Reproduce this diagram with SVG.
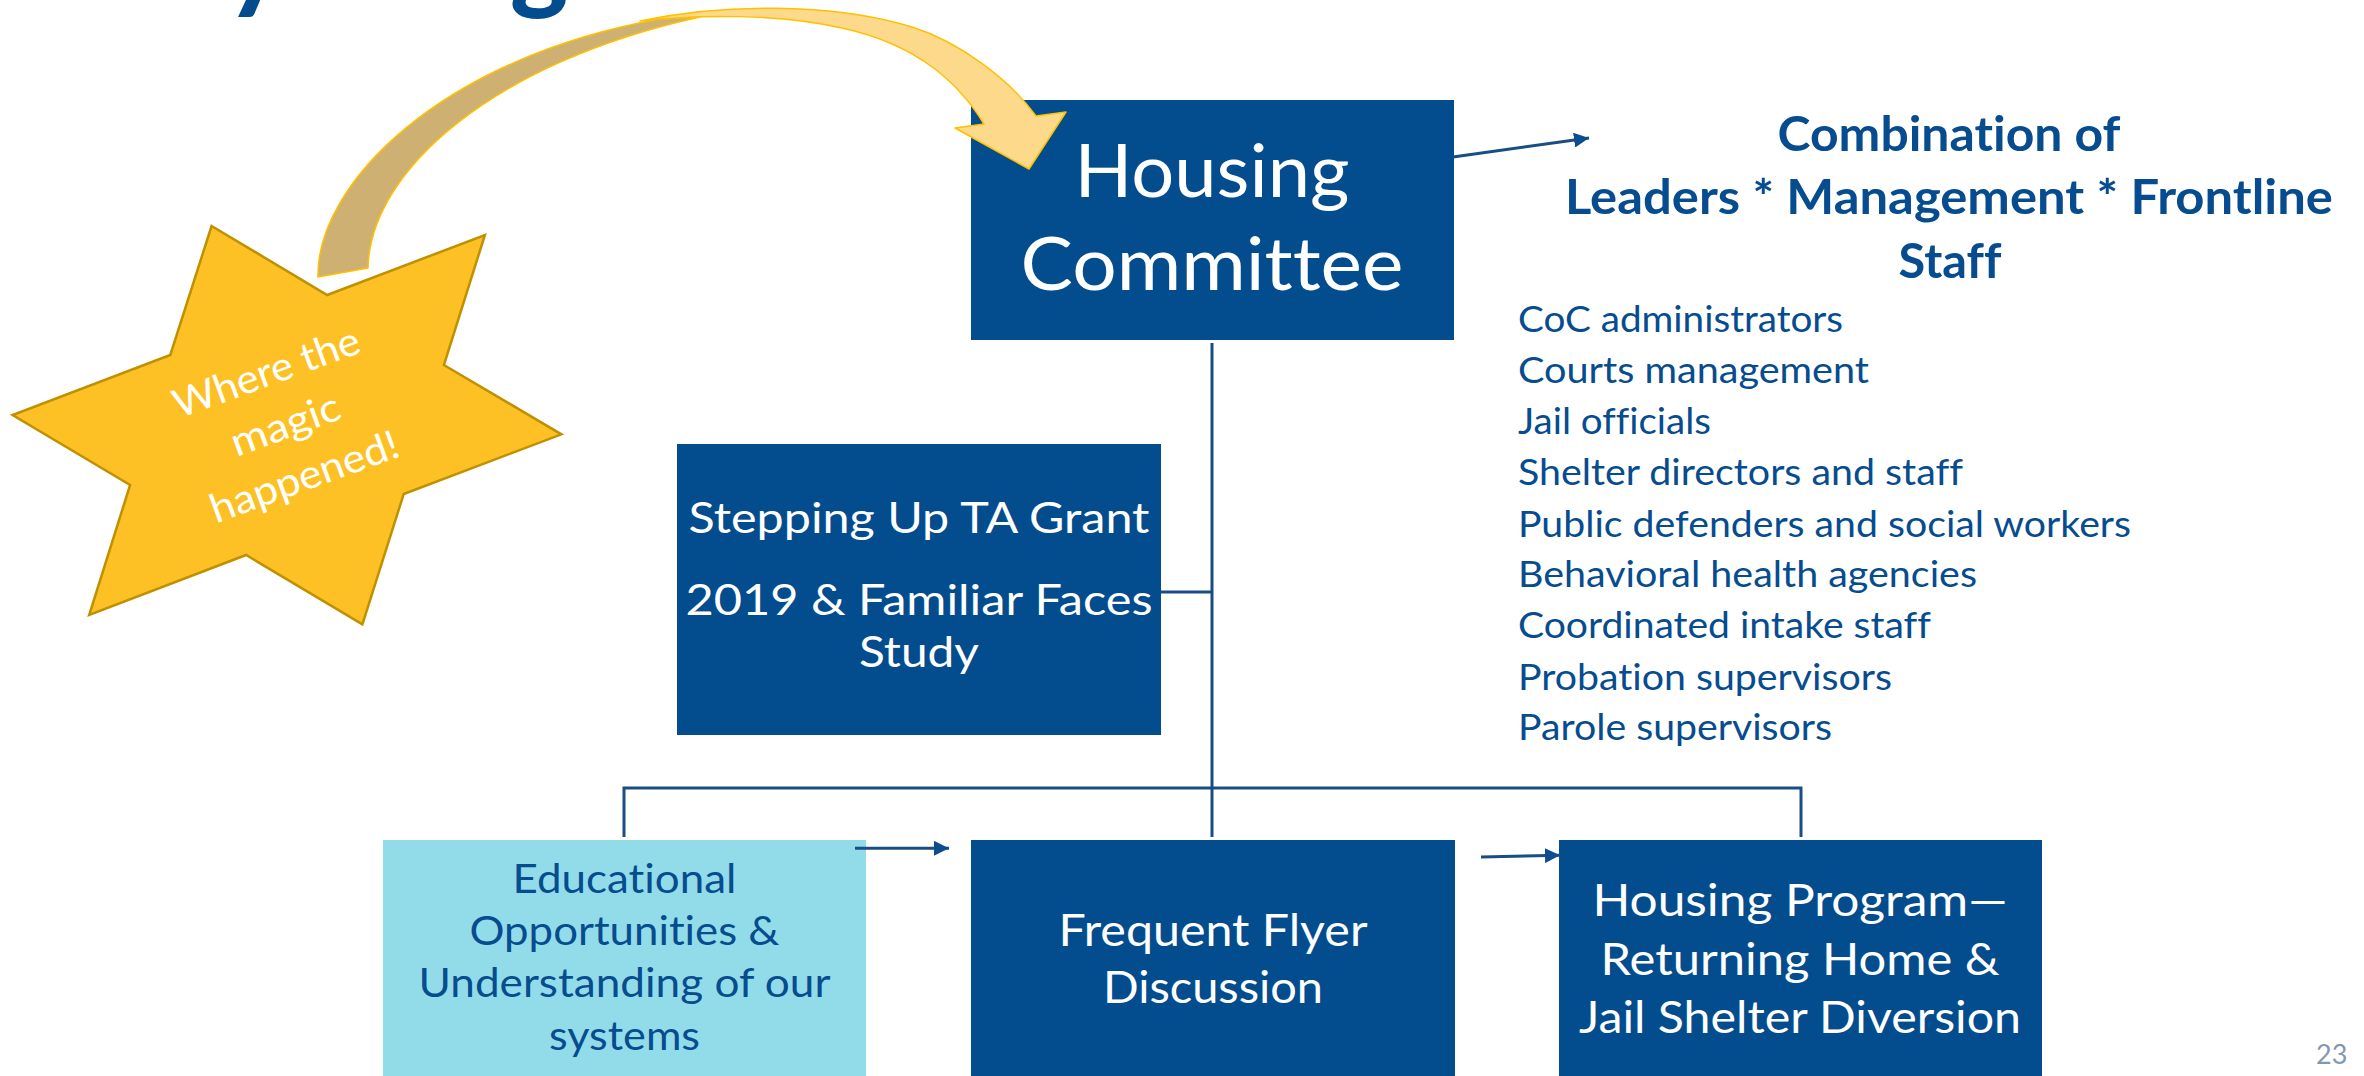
<svg xmlns="http://www.w3.org/2000/svg" width="2364" height="1076" viewBox="0 0 2364 1076">
<style>
text{font-family:Lato,"Liberation Sans",sans-serif;font-variant-ligatures:none}
.box{fill:#034C8D}
.lbox{fill:#92DCEA}
.wt{fill:#ffffff;text-anchor:middle}
.bt{fill:#064C8F;text-anchor:middle}
.lst{fill:#064C8F;font-size:36px}
.hd{fill:#064C8F;font-size:48px;font-weight:bold;text-anchor:middle}
.con{stroke:#1A4D84;stroke-width:3;fill:none}
.title{fill:#034C8D;font-size:110px;font-weight:900}
</style>
<defs>
<marker id="ah" viewBox="0 0 10 10" refX="10" refY="5" markerWidth="5" markerHeight="5" orient="auto" markerUnits="strokeWidth">
<path d="M0,0 L10,5 L0,10 z" fill="#0B4E8F"/>
</marker>
</defs>
<rect width="2364" height="1076" fill="#ffffff"/>
<g id="title">
<text class="title" x="226" y="-1">y</text>
<text class="title" x="510" y="-1">g</text>
</g>
<g id="star">
<polygon points="211.6,226 327.2,295 484.9,235 443.9,365 561.4,434.3 403.7,494 362.4,624.3 246.1,555 89.2,615 130.1,485 12.6,415 170.3,355" fill="#FEC125" stroke="#BF9000" stroke-width="2.5" stroke-linejoin="miter"/>
<g transform="rotate(-20 290 437.5)" class="wt" font-size="40">
<text x="290" y="382" textLength="196" lengthAdjust="spacingAndGlyphs">Where the</text>
<text x="290" y="437.5" textLength="114" lengthAdjust="spacingAndGlyphs">magic</text>
<text x="290" y="493" textLength="198" lengthAdjust="spacingAndGlyphs">happened!</text>
</g>
</g>
<g id="housing-committee">
<rect class="box" x="971" y="100" width="483" height="240"/>
<text class="wt" x="1212" y="197" font-size="74" textLength="275" lengthAdjust="spacingAndGlyphs">Housing</text>
<text class="wt" x="1212" y="290" font-size="74" textLength="383" lengthAdjust="spacingAndGlyphs">Committee</text>
</g>
<g id="combination">
<text class="hd" x="1949" y="151" textLength="343" lengthAdjust="spacingAndGlyphs">Combination of</text>
<text class="hd" x="1949" y="214" textLength="768" lengthAdjust="spacingAndGlyphs">Leaders * Management * Frontline</text>
<text class="hd" x="1950" y="278" textLength="103" lengthAdjust="spacingAndGlyphs">Staff</text>
</g>
<g id="members">
<text class="lst" x="1518" y="332" textLength="325" lengthAdjust="spacingAndGlyphs">CoC administrators</text>
<text class="lst" x="1518" y="383" textLength="351" lengthAdjust="spacingAndGlyphs">Courts management</text>
<text class="lst" x="1518" y="434" textLength="193" lengthAdjust="spacingAndGlyphs">Jail officials</text>
<text class="lst" x="1518" y="485" textLength="445" lengthAdjust="spacingAndGlyphs">Shelter directors and staff</text>
<text class="lst" x="1518" y="537" textLength="613" lengthAdjust="spacingAndGlyphs">Public defenders and social workers</text>
<text class="lst" x="1518" y="587" textLength="459" lengthAdjust="spacingAndGlyphs">Behavioral health agencies</text>
<text class="lst" x="1518" y="638" textLength="413" lengthAdjust="spacingAndGlyphs">Coordinated intake staff</text>
<text class="lst" x="1518" y="689.5" textLength="374" lengthAdjust="spacingAndGlyphs">Probation supervisors</text>
<text class="lst" x="1518" y="740" textLength="314" lengthAdjust="spacingAndGlyphs">Parole supervisors</text>
</g>
<g id="stepping-up">
<rect class="box" x="677" y="444" width="484" height="291"/>
<text class="wt" x="919" y="533" font-size="42" textLength="461" lengthAdjust="spacingAndGlyphs">Stepping Up TA Grant</text>
<text class="wt" x="919" y="615" font-size="42" textLength="467" lengthAdjust="spacingAndGlyphs">2019 &amp; Familiar Faces</text>
<text class="wt" x="919" y="667" font-size="42" textLength="120" lengthAdjust="spacingAndGlyphs">Study</text>
</g>
<g id="educational">
<rect class="lbox" x="383" y="840" width="483" height="236"/>
<text class="bt" x="624.5" y="893" font-size="41" textLength="224" lengthAdjust="spacingAndGlyphs">Educational</text>
<text class="bt" x="624.5" y="945" font-size="41" textLength="310" lengthAdjust="spacingAndGlyphs">Opportunities &amp;</text>
<text class="bt" x="624.5" y="997" font-size="41" textLength="412" lengthAdjust="spacingAndGlyphs">Understanding of our</text>
<text class="bt" x="624.5" y="1050" font-size="41" textLength="151" lengthAdjust="spacingAndGlyphs">systems</text>
</g>
<g id="frequent-flyer">
<rect class="box" x="971" y="840" width="484" height="236"/>
<text class="wt" x="1213" y="946" font-size="45" textLength="309" lengthAdjust="spacingAndGlyphs">Frequent Flyer</text>
<text class="wt" x="1213" y="1003" font-size="45" textLength="220" lengthAdjust="spacingAndGlyphs">Discussion</text>
</g>
<g id="housing-program">
<rect class="box" x="1559" y="840" width="483" height="236"/>
<text class="wt" x="1800" y="916" font-size="45" textLength="415" lengthAdjust="spacingAndGlyphs">Housing Program—</text>
<text class="wt" x="1800" y="975" font-size="45" textLength="399" lengthAdjust="spacingAndGlyphs">Returning Home &amp;</text>
<text class="wt" x="1800" y="1033" font-size="45" textLength="442" lengthAdjust="spacingAndGlyphs">Jail Shelter Diversion</text>
</g>
<g id="magic-arrow" stroke="#FFC000" stroke-width="1.5" stroke-linejoin="round">
<path d="M318,277 C316,185 440,58 660,19 L700,17 C495,62 370,170 368,268 Z" fill="#CEB072"/>
<path d="M640,21 C720,4 830,2 912,27 C960,42 1010,80 1036,116 L1066,112 L1029,169 L955,128 L984,124 C960,85 920,45 842,28 C780,14 700,14 640,21 Z" fill="#FDD98C"/>
</g>
<g id="connectors">
<path class="con" d="M1212,343 V837"/>
<path class="con" d="M624,837 V788 H1801 V837"/>
<path class="con" d="M1161,592 H1212"/>
<line class="con" x1="1453" y1="157" x2="1589" y2="138" marker-end="url(#ah)"/>
<line class="con" x1="855" y1="848.3" x2="949" y2="848.3" marker-end="url(#ah)"/>
<line class="con" x1="1481" y1="857" x2="1560" y2="855.3" marker-end="url(#ah)"/>
</g>
<text id="page-number" x="2316" y="1064" font-size="27" fill="#8497B0">23</text>
</svg>
